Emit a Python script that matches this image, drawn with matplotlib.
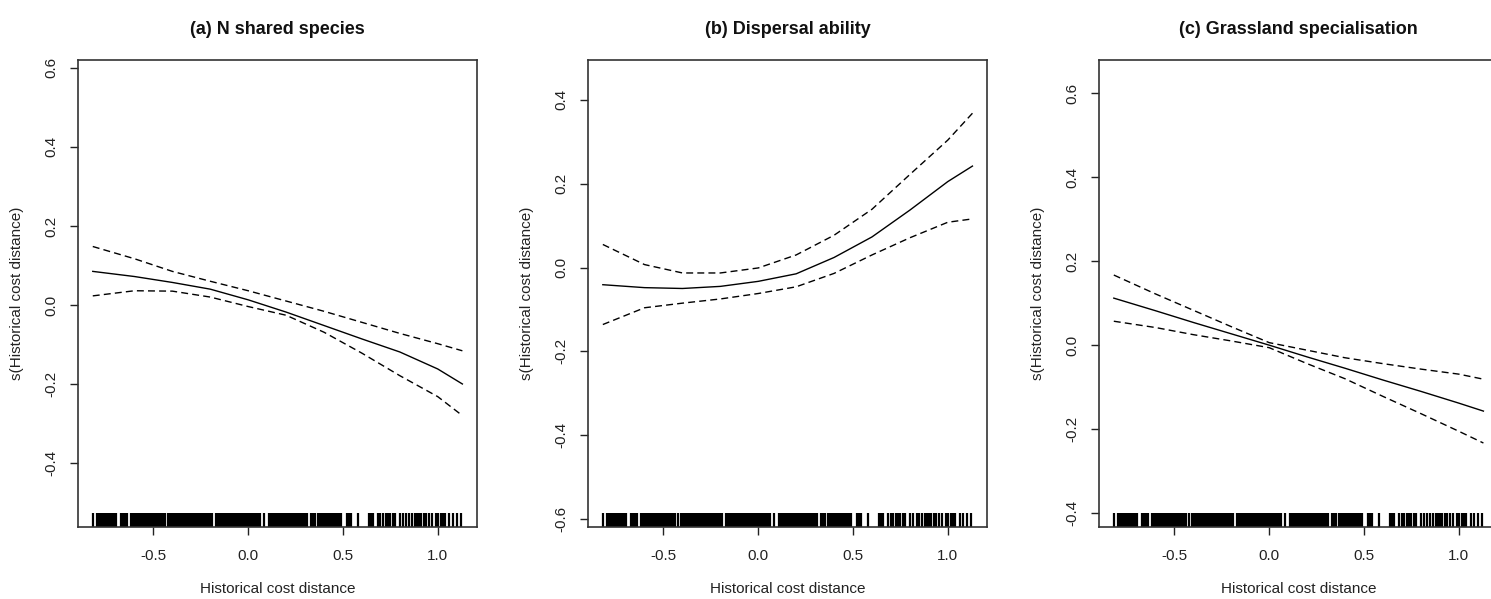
import numpy as np
import matplotlib
matplotlib.use("Agg")
import matplotlib.pyplot as plt
import matplotlib.transforms as mtransforms

plt.rcParams['font.family'] = ['Liberation Sans', 'DejaVu Sans']

x_grid = [-0.82, -0.6, -0.4, -0.2, 0.0, 0.2, 0.4, 0.6, 0.8, 1.0, 1.13]

# (a) N shared species
fit_a = [0.085, 0.072, 0.057, 0.040, 0.013, -0.018, -0.052, -0.086, -0.119, -0.162, -0.200]
up_a = [0.148, 0.117, 0.085, 0.060, 0.036, 0.010, -0.016, -0.044, -0.072, -0.098, -0.116]
lo_a = [0.023, 0.036, 0.035, 0.020, -0.004, -0.026, -0.069, -0.122, -0.179, -0.232, -0.280]

# (b) Dispersal ability
fit_b = [-0.041, -0.048, -0.050, -0.045, -0.033, -0.015, 0.024, 0.073, 0.137, 0.205, 0.242]
up_b = [0.055, 0.007, -0.013, -0.013, -0.001, 0.030, 0.077, 0.139, 0.222, 0.304, 0.368]
lo_b = [-0.136, -0.096, -0.085, -0.075, -0.062, -0.046, -0.014, 0.030, 0.071, 0.108, 0.116]

# (c) Grassland specialisation
fit_c = [0.112, 0.082, 0.054, 0.027, 0.000, -0.028, -0.055, -0.083, -0.110, -0.138, -0.157]
up_c = [0.167, 0.122, 0.083, 0.044, 0.006, -0.012, -0.030, -0.044, -0.057, -0.069, -0.081]
lo_c = [0.057, 0.042, 0.025, 0.010, -0.006, -0.044, -0.080, -0.122, -0.163, -0.205, -0.233]

# observed predictor values (rug)
rug_x = [
    -0.82,
    -0.80, -0.79, -0.78, -0.77, -0.76, -0.75, -0.74, -0.73, -0.72, -0.71, -0.70,
    -0.67, -0.66, -0.65, -0.64,
    -0.62, -0.61, -0.60, -0.59,
    -0.58, -0.57, -0.56, -0.55, -0.54, -0.53, -0.52, -0.51, -0.50, -0.49,
    -0.48, -0.47, -0.46, -0.45, -0.44,
    -0.425,
    -0.41, -0.40, -0.39, -0.38, -0.37, -0.36, -0.35, -0.34, -0.33, -0.32,
    -0.31, -0.30, -0.29, -0.28, -0.27, -0.26,
    -0.25, -0.24, -0.23, -0.22, -0.21, -0.20, -0.19,
    -0.17, -0.16, -0.15, -0.14, -0.13, -0.12, -0.11, -0.10, -0.09,
    -0.08, -0.07, -0.06, -0.05, -0.04, -0.03, -0.02, -0.01, 0.00, 0.01,
    0.02, 0.03, 0.04, 0.05, 0.06,
    0.085,
    0.11, 0.12, 0.13, 0.14, 0.15, 0.16, 0.17, 0.18, 0.19,
    0.20, 0.21, 0.22, 0.23, 0.24, 0.25, 0.26, 0.27, 0.28, 0.29, 0.30, 0.31,
    0.33, 0.34, 0.35,
    0.37, 0.38, 0.39, 0.40, 0.41, 0.42, 0.43, 0.44, 0.45, 0.46,
    0.47, 0.48, 0.49,
    0.52, 0.53, 0.54,
    0.58,
    0.635, 0.648, 0.66, 0.685, 0.698, 0.71, 0.725, 0.738, 0.75, 0.762, 0.775,
    0.80, 0.815, 0.835, 0.85, 0.865, 0.878, 0.89, 0.90, 0.912, 0.925, 0.94,
    0.955, 0.968, 0.99, 1.002, 1.015, 1.028, 1.04, 1.062, 1.08, 1.10, 1.125,
]

titles = ["(a) N shared species", "(b) Dispersal ability", "(c) Grassland specialisation"]
fits = [fit_a, fit_b, fit_c]
uppers = [up_a, up_b, up_c]
lowers = [lo_a, lo_b, lo_c]
ylims = [(-0.562, 0.620), (-0.619, 0.495), (-0.433, 0.679)]
yticks = [[-0.4, -0.2, 0.0, 0.2, 0.4, 0.6],
          [-0.6, -0.4, -0.2, 0.0, 0.2, 0.4],
          [-0.4, -0.2, 0.0, 0.2, 0.4, 0.6]]
lefts = [0.0523, 0.3944, 0.7371]

fig = plt.figure(figsize=(14.91, 5.99), dpi=100)

for i in range(3):
    ax = fig.add_axes([lefts[i], 0.1202, 0.2676, 0.7796])
    ax.plot(x_grid, fits[i], color='black', lw=1.0)
    ax.plot(x_grid, uppers[i], color='black', lw=1.0, linestyle=(0, (5, 3)))
    ax.plot(x_grid, lowers[i], color='black', lw=1.0, linestyle=(0, (5, 3)))

    trans = mtransforms.blended_transform_factory(ax.transData, ax.transAxes)
    ax.vlines(rug_x, 0, 0.03, transform=trans, color='black', lw=1.6)

    ax.set_xlim(-0.898, 1.207)
    ax.set_ylim(*ylims[i])
    ax.set_xticks([-0.5, 0.0, 0.5, 1.0])
    ax.set_xticklabels(["-0.5", "0.0", "0.5", "1.0"])
    ax.set_yticks(yticks[i])
    ax.set_yticklabels(["%.1f" % v for v in yticks[i]], rotation=90, va='center')
    ax.tick_params(axis='both', direction='out', length=6, width=1.0,
                   labelsize=11, colors='#222222')
    ax.tick_params(axis='x', pad=10)
    ax.tick_params(axis='y', pad=8)
    for s in ax.spines.values():
        s.set_color('#333333')
        s.set_linewidth(1.2)

    ax.set_xlabel("Historical cost distance", fontsize=11, color='#222222')
    ax.xaxis.set_label_coords(0.5, -0.118)
    ax.set_ylabel("s(Historical cost distance)", fontsize=11, color='#222222')
    ax.yaxis.set_label_coords(-0.135, 0.5)
    ax.text(0.5, 1.066, titles[i], transform=ax.transAxes, ha='center', va='center',
            fontsize=13, fontweight='bold', color='#111111')

fig.savefig("out.png", dpi=100)
